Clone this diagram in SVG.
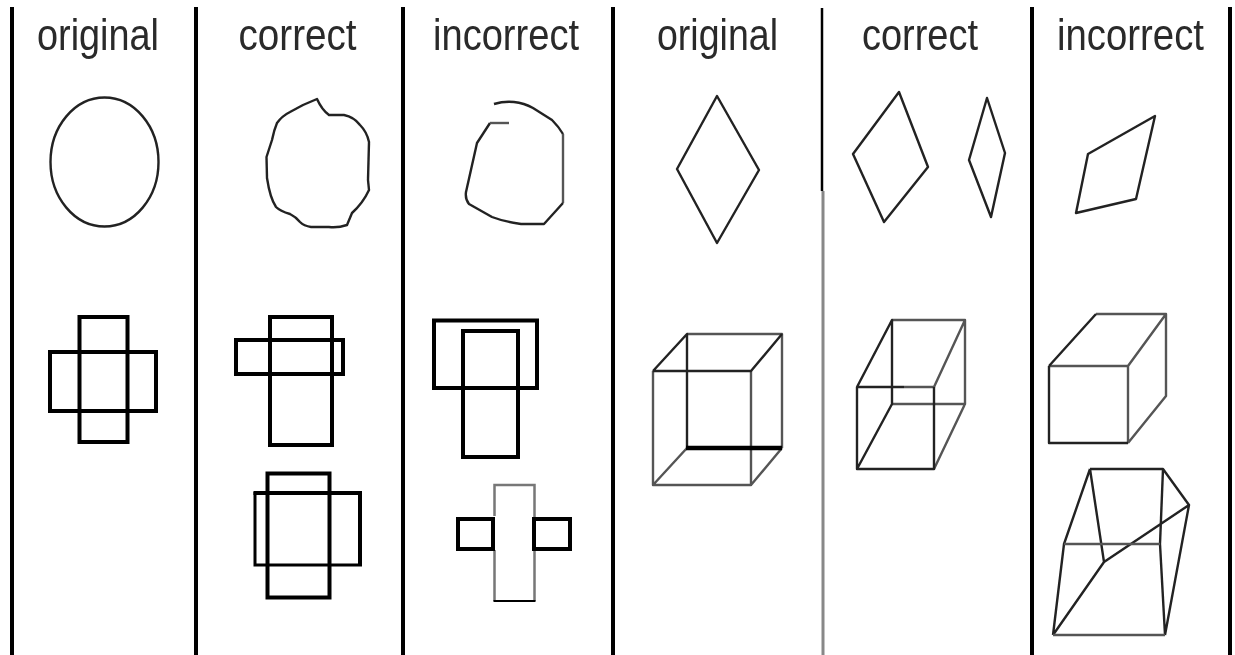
<svg xmlns="http://www.w3.org/2000/svg" width="1235" height="655" viewBox="0 0 1235 655">
<style>
.t{font-family:"Liberation Sans",Arial,sans-serif;font-size:44px;fill:#2a2a2a;stroke:none}
.d{fill:none;stroke:#000;stroke-linejoin:miter}
.v{stroke-width:4}
.th{stroke-width:2.4;stroke:#222;stroke-linejoin:round}
.m{stroke-width:2.4;stroke:#555;stroke-linejoin:round}
.b{stroke-width:4}
</style>
<defs><filter id="soft" x="-2%" y="-2%" width="104%" height="104%"><feGaussianBlur stdDeviation="0.55"/></filter></defs>
<rect width="1235" height="655" fill="#fff"/>
<g filter="url(#soft)">
<g id="dividers" class="d">
<path class="v" d="M12 7V655M196 7V655M403 7V655M613 7V655M1032 7V655M1230 7V655"/>
<path stroke-width="2.5" d="M822 8V191"/>
<path stroke-width="3" stroke="#888" d="M823 191V655"/>
</g>
<g id="labels">
<text class="t" x="37" y="50" textLength="122" lengthAdjust="spacingAndGlyphs">original</text>
<text class="t" x="238.500" y="50" textLength="118" lengthAdjust="spacingAndGlyphs">correct</text>
<text class="t" x="433" y="50" textLength="146" lengthAdjust="spacingAndGlyphs">incorrect</text>
<text class="t" x="657" y="50" textLength="121" lengthAdjust="spacingAndGlyphs">original</text>
<text class="t" x="862" y="50" textLength="116" lengthAdjust="spacingAndGlyphs">correct</text>
<text class="t" x="1057" y="50" textLength="147" lengthAdjust="spacingAndGlyphs">incorrect</text>
</g>
<g id="circles" class="d">
<ellipse class="th" cx="104.500" cy="162" rx="54" ry="64.500"/>
<path class="th" d="M317 99Q322 110 329 115H344Q354 117 360 125Q367 132 369 142L368 180L369 190Q363 203 352 213L347 225Q338 228 329 227H311Q304 226 300 222Q296 217 290 214Q280 211 276 207Q270 198 267 178L266.500 157L272 140Q274 130 277 123Q282 116 290 112L303 105Z"/>
<path class="th" d="M494 104Q504 101 514 102Q524 103 533 108L552 120Q559 127 563 134"/>
<path class="m" d="M563 134V203"/>
<path class="th" d="M563 203L544 224H521Q505 222 492 217L469 204Q465 199 466 192L477 143L490 123"/>
<path class="m" d="M490 123H509"/>
</g>
<g id="diamonds" class="d">
<path class="th" d="M717 96L759 170L717 243L677 169Z"/>
<path class="th" d="M899 92L928 167L884 222L853 154Z"/>
<path class="th" d="M987 98L1005 153L991 217L969 160Z"/>
<path class="th" d="M1155 116L1136 199L1076 213L1088 154Z"/>
</g>
<g id="crosses" class="d">
<rect class="b" x="79.500" y="317" width="48" height="125"/>
<rect class="b" x="50" y="352" width="106" height="59"/>
<rect class="b" x="270" y="317" width="62" height="128"/>
<rect class="b" x="236" y="340" width="107" height="34"/>
<rect class="b" x="267.500" y="473.500" width="62" height="124"/>
<path class="b" d="M253.500 493H360V566"/>
<path stroke-width="3" d="M255 492V565H362"/>
<rect class="b" x="434" y="320.500" width="103" height="67.500"/>
<rect class="b" x="463" y="331" width="55" height="126"/>
<path stroke-width="2.500" stroke="#777" d="M494.500 516V485H534.500V518M534.500 550V601M494.500 550V601"/>
<path stroke-width="2" d="M493.500 601H535.500"/>
<rect class="b" x="458" y="519" width="35" height="30"/>
<rect class="b" x="534" y="519" width="36" height="30"/>
</g>
<g id="cubes" class="d">
<path class="m" d="M653 371V485H751V371M687 334H782V448M653 485L687 448M751 485L782 448"/>
<path class="th" d="M653 371H751L782 334M653 371L687 334V448"/>
<path stroke-width="4.500" d="M686 448H782"/>
<path class="m" d="M892 320H965V404H892M934 387H904M965 320L934 387M965 404L934 469"/>
<path class="th" d="M904 387H857V469H934V387M857 387L892 320V404L857 469"/>
<path class="m" d="M1049 366H1128V443M1096 314H1166V396L1128 443M1128 366L1166 314"/>
<path class="th" d="M1049 366V443H1128M1049 366L1096 314"/>
<path class="th" d="M1090 469H1163L1189 505L1165 635M1090 469L1064 544L1053 635M1090 469L1104 562M1053 635L1104 562L1189 505M1163 469L1160 544L1165 635"/>
<path class="m" d="M1053 635H1165M1064 544H1160"/>
</g>
</g>
</svg>
